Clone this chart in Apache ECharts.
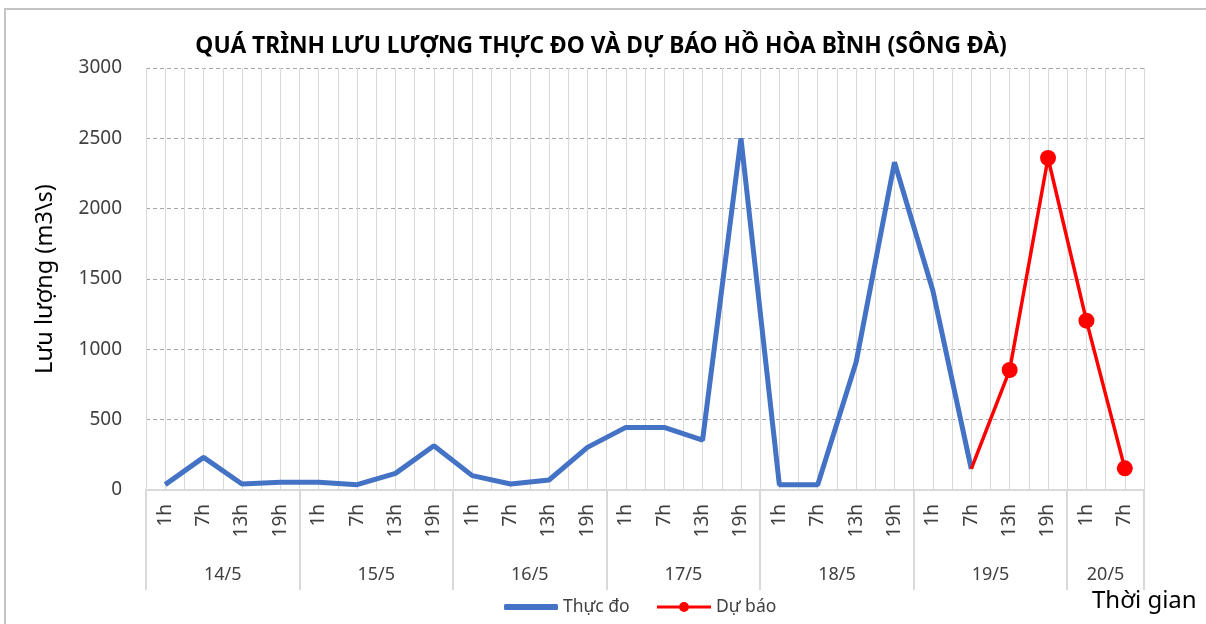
<!DOCTYPE html>
<html>
<head>
<meta charset="utf-8">
<title>Lưu lượng hồ Hòa Bình</title>
<script src="https://cdn.jsdelivr.net/npm/echarts@6/dist/echarts.min.js"></script>
<style>
  html, body { margin: 0; padding: 0; background: #fff; }
  #chart { width: 1206px; height: 624px; }
</style>
</head>
<body>
<div id="chart"></div>
<script>
// ngày và số mốc giờ của mỗi ngày
const dates = ["14/5", "15/5", "16/5", "17/5", "18/5", "19/5", "20/5"];
const hoursPerDay = [4, 4, 4, 4, 4, 4, 2];
const hourLabels = ["1h", "7h", "13h", "19h"];

// lưu lượng thực đo (m3/s), từ 1h 14/5 đến 7h 19/5
const observed = [
  38, 232, 43, 55,
  55, 38, 118, 315,
  102, 43, 71, 303,
  445, 445, 355, 2500,
  38, 38, 908, 2330,
  1417, 150
];
// lưu lượng dự báo, bắt đầu từ 7h 19/5
const forecastStart = 21;
const forecast = [150, 853, 2360, 1204, 154];

const yTicks = { min: 0, max: 3000, step: 500 };

// trục phân loại hai tầng
const categories = [];
dates.forEach((d, i) => {
  for (let k = 0; k < hoursPerDay[i]; k++) categories.push(hourLabels[k]);
});
const total = categories.length;

const groupEdges = [0];
const groupCenters = [];
hoursPerDay.forEach((n) => {
  const start = groupEdges[groupEdges.length - 1];
  groupCenters.push(start + n / 2);
  groupEdges.push(start + n);
});

const forecastData = categories.map(() => null);
forecast.forEach((v, i) => {
  forecastData[forecastStart + i] = i === 0 ? { value: v, symbol: "none" } : v;
});

const FONT = "'Noto Sans', 'DejaVu Sans', sans-serif";
const legendText = { fontSize: 17.5, color: "#404040", fontFamily: FONT };

const chart = echarts.init(document.getElementById("chart"));

chart.setOption({
  animation: false,
  textStyle: { fontFamily: FONT },
  title: {
    text: "QUÁ TRÌNH LƯU LƯỢNG THỰC ĐO VÀ DỰ BÁO HỒ HÒA BÌNH (SÔNG ĐÀ)",
    left: 596,
    textAlign: "center",
    top: 30,
    textStyle: { fontSize: 22.8, fontWeight: "bold", color: "#000", fontFamily: FONT },
  },
  legend: [
    {
      left: 499,
      top: 593,
      itemWidth: 54,
      itemHeight: 6,
      textStyle: legendText,
      data: [{ name: "Thực đo", icon: "roundRect" }],
    },
    {
      left: 652,
      top: 593,
      itemWidth: 54,
      itemHeight: 10,
      textStyle: legendText,
      data: [{
        name: "Dự báo",
        icon: "path://M0,3.5 H23 V6.5 H0 Z M31,3.5 H54 V6.5 H31 Z M22,5 A5,5 0 1 1 32,5 A5,5 0 1 1 22,5 Z",
      }],
    },
  ],
  grid: { left: 146, right: 62, top: 68, bottom: 134 },
  xAxis: [
    {
      type: "category",
      data: categories,
      boundaryGap: true,
      axisLine: { lineStyle: { color: "#d9d9d9", width: 2 } },
      axisTick: { show: false },
      splitLine: { show: false },
      axisLabel: {
        rotate: 90,
        interval: 0,
        margin: 14,
        fontSize: 19,
        color: "#404040",
      },
    },
    {
      type: "value",
      position: "bottom",
      min: 0,
      max: total,
      interval: 1,
      axisLine: { show: false },
      splitLine: { show: false },
      axisTick: {
        show: true,
        customValues: groupEdges,
        length: 100,
        lineStyle: { color: "#d9d9d9", width: 2 },
      },
      axisLabel: {
        customValues: groupCenters,
        margin: 76,
        fontSize: 18,
        color: "#404040",
        formatter: (v) => {
          const i = groupCenters.indexOf(v);
          return i >= 0 ? dates[i] : "";
        },
      },
    },
    {
      // lưới dọc cứ nửa ô một đường
      type: "value",
      min: 0,
      max: total * 2,
      interval: 1,
      axisLine: { show: false },
      axisTick: { show: false },
      axisLabel: { show: false },
      splitLine: { show: true, lineStyle: { color: "#d9d9d9", width: 1 } },
    },
  ],
  yAxis: {
    type: "value",
    min: yTicks.min,
    max: yTicks.max,
    interval: yTicks.step,
    name: "Lưu lượng (m3\\s)",
    nameLocation: "middle",
    nameGap: 89,
    nameTextStyle: { fontSize: 23.5, color: "#000", fontFamily: FONT },
    axisLine: { show: false },
    axisTick: { show: false },
    axisLabel: { fontSize: 19, color: "#404040", margin: 24, formatter: (v) => String(v) },
    splitLine: { lineStyle: { color: "#a6a6a6", type: [4, 3], width: 1 } },
  },
  graphic: [
    {
      type: "rect",
      shape: { x: 5, y: 9, width: 1300, height: 700 },
      style: { fill: "none", stroke: "#c4c4c4", lineWidth: 2 },
      silent: true,
    },
    {
      type: "text",
      left: 1092,
      top: 589,
      style: { text: "Thời gian", fill: "#000", font: "24px " + FONT },
    },
  ],
  series: [
    {
      name: "Thực đo",
      type: "line",
      xAxisIndex: 0,
      data: observed,
      symbol: "none",
      lineStyle: { color: "#4472c4", width: 5 },
      itemStyle: { color: "#4472c4" },
      z: 3,
    },
    {
      name: "Dự báo",
      type: "line",
      xAxisIndex: 0,
      data: forecastData,
      symbol: "circle",
      symbolSize: 16,
      lineStyle: { color: "#ff0000", width: 3.5 },
      itemStyle: { color: "#ff0000" },
      z: 4,
    },
  ],
});
</script>
</body>
</html>
